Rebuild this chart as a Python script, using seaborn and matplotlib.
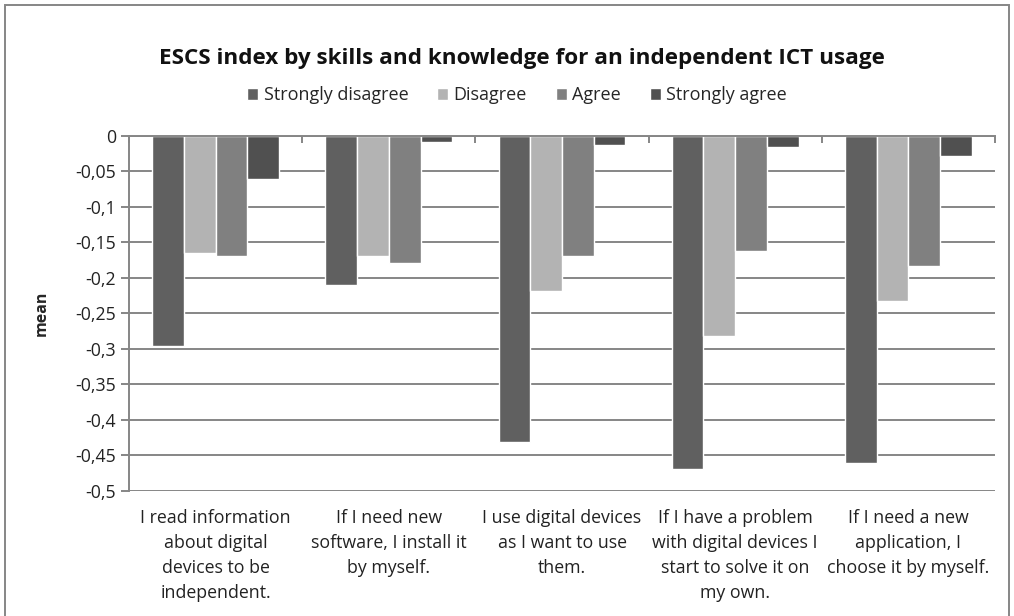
import pandas as pd
import matplotlib
matplotlib.use('Agg')
import matplotlib.pyplot as plt
import seaborn as sns
from matplotlib.ticker import FuncFormatter, MultipleLocator
from matplotlib.patches import Rectangle

# chart values
statements = [
    'I read information\nabout digital\ndevices to be\nindependent.',
    'If I need new\nsoftware, I install it\nby myself.',
    'I use digital devices\nas I want to use\nthem.',
    'If I have a problem\nwith digital devices I\nstart to solve it on\nmy own.',
    'If I need a new\napplication, I\nchoose it by myself.',
]
answers = ['Strongly disagree', 'Disagree', 'Agree', 'Strongly agree']
strongly_disagree = [-0.296, -0.210, -0.431, -0.469, -0.461]
disagree = [-0.165, -0.169, -0.219, -0.282, -0.232]
agree = [-0.169, -0.179, -0.169, -0.162, -0.183]
strongly_agree = [-0.061, -0.009, -0.013, -0.016, -0.028]
colors = ['#606060', '#b3b3b3', '#808080', '#505050']

rows = []
for ans, vals in zip(answers, [strongly_disagree, disagree, agree, strongly_agree]):
    for st, v in zip(statements, vals):
        rows.append({'statement': st, 'answer': ans, 'mean': v})
data = pd.DataFrame(rows)

sns.set_style('white')
plt.rcParams['font.family'] = ['Open Sans', 'DejaVu Sans']
grid_col = '#868686'

fig = plt.figure(figsize=(10.14, 6.16), dpi=100)
ax = fig.add_axes([0.1272, 0.2029, 0.8541, 0.5768])

sns.barplot(data=data, x='statement', y='mean', hue='answer', hue_order=answers,
            palette=colors, width=0.733, gap=0, saturation=1, errorbar=None, ax=ax)

ax.set_ylim(-0.5, 0)
ax.set_xlim(-0.5, len(statements) - 0.5)
ax.yaxis.set_major_locator(MultipleLocator(0.05))
ax.yaxis.set_major_formatter(FuncFormatter(lambda v, p: ('%g' % round(v, 2)).replace('.', ',')))
ax.grid(axis='y', color=grid_col, linewidth=1.4)
ax.set_axisbelow(True)
for s in ['right', 'bottom']:
    ax.spines[s].set_visible(False)
ax.spines['left'].set_color(grid_col)
ax.spines['left'].set_linewidth(1.4)
ax.spines['top'].set_color(grid_col)
ax.spines['top'].set_linewidth(1.4)

# category boundary ticks on the zero line
ax.set_xticks([i - 0.5 for i in range(len(statements) + 1)], minor=True)
ax.tick_params(axis='x', which='minor', top=True, bottom=False, direction='in',
               length=5, width=1.4, color=grid_col)
ax.tick_params(axis='x', which='major', length=0, labelsize=12.8, pad=13, labelcolor='#222222')
ax.tick_params(axis='y', which='major', left=True, length=6, width=1.4, color=grid_col,
               labelsize=12.8, labelcolor='#222222')
for lab in ax.get_xticklabels():
    lab.set_linespacing(1.5)
ax.set_xlabel('')
ax.set_ylabel('mean', fontsize=11.5, fontweight='bold', labelpad=18)

handles, labels = ax.get_legend_handles_labels()
ax.legend_.remove()
fig.legend(handles, labels, loc='center', bbox_to_anchor=(0.510, 0.845), ncol=4,
           frameon=False, fontsize=13, handlelength=0.6, handleheight=0.6,
           handletextpad=0.3, columnspacing=1.6)

fig.text(0.515, 0.905, 'ESCS index by skills and knowledge for an independent ICT usage',
         ha='center', va='center', fontsize=16.2, fontweight='bold', color='#111111')

fig.patches.append(Rectangle((5 / 1014, -0.01), 1004 / 1014, 1.0 - 5 / 616 + 0.01,
                             transform=fig.transFigure, fill=False,
                             edgecolor=grid_col, linewidth=1.4))

fig.savefig('out.png', dpi=100)
